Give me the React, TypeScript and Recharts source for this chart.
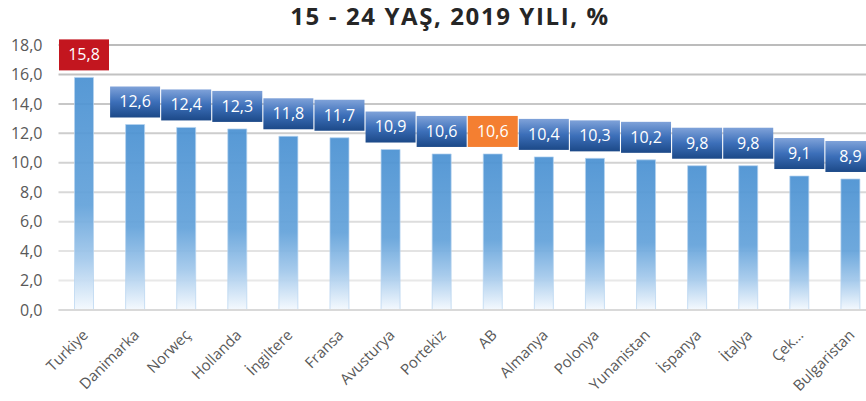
import React from "react";
import { BarChart, Bar, XAxis, YAxis, CartesianGrid, LabelList } from "recharts";

const ulkeler = [
  "Turkiye", "Danimarka", "Norweç", "Hollanda", "İngiltere", "Fransa", "Avusturya", "Portekiz",
  "AB", "Almanya", "Polonya", "Yunanistan", "İspanya", "İtalya", "Çek…", "Bulgaristan",
];
const oranlar = [15.8, 12.6, 12.4, 12.3, 11.8, 11.7, 10.9, 10.6, 10.6, 10.4, 10.3, 10.2, 9.8, 9.8, 9.1, 8.9];
const yTicks = [0, 2, 4, 6, 8, 10, 12, 14, 16, 18];

const data = ulkeler.map((ulke, i) => ({ ulke, oran: oranlar[i] }));

const FONT = "'Open Sans', 'Liberation Sans', sans-serif";
const ozelRenk: Record<string, string> = { Turkiye: "#c3161f", AB: "#f47f31" };

const fmt = (v: number) => v.toFixed(1).replace(".", ",");

const EtiketKutusu = (props: any) => {
  const { x, y, width, value, index } = props;
  const cx = x + width / 2;
  const w = 50;
  const h = 31;
  const alt = y - 7;
  const renk = ozelRenk[ulkeler[index]];
  return (
    <g>
      <rect x={cx - w / 2} y={alt - h} width={w} height={h} fill={renk || "url(#kutuGrad)"} />
      <text
        x={cx}
        y={alt - h / 2 + 1}
        textAnchor="middle"
        dominantBaseline="middle"
        fill="#fff"
        fontSize={16}
        fontFamily={FONT}
      >
        {fmt(value)}
      </text>
    </g>
  );
};

const XEtiket = (props: any) => {
  const { x, y, payload } = props;
  const ax = x + 5;
  const ay = y + 18;
  return (
    <text
      x={ax}
      y={ay}
      textAnchor="end"
      transform={`rotate(-45 ${ax} ${ay})`}
      fill="#595959"
      fontSize={15}
      fontFamily={FONT}
    >
      {payload.value}
    </text>
  );
};

// grid lines fade from darker at the top to lighter near the axis
const gridCizgi = (props: any) => {
  const { x1, y1, x2, y2, offset } = props;
  const top = offset?.top ?? 45;
  const h = offset?.height ?? 265;
  const t = Math.max(0, Math.min(1, (y1 - top) / h));
  const g = Math.round(0xbc + (0xee - 0xbc) * t);
  const c = `rgb(${g},${g},${g})`;
  return <line key={`g-${y1}`} x1={x1} y1={y1} x2={x2} y2={y2} stroke={c} strokeWidth={2} />;
};

export default function App() {
  return (
    <div style={{ position: "absolute", left: 0, top: 0, width: 866, height: 401, overflow: "hidden", background: "#fff" }}>
      <span
        style={{
          position: "absolute",
          left: 450,
          top: 0,
          transform: "translateX(-50%)",
          whiteSpace: "nowrap",
          fontFamily: FONT,
          fontWeight: 700,
          fontSize: 24,
          letterSpacing: 1.6,
          color: "#262626",
          lineHeight: "32px",
        }}
      >
        15 - 24 YAŞ, 2019 YILI, %
      </span>
      <BarChart
        width={876}
        height={401}
        data={data}
        margin={{ top: 45, right: 0, bottom: 0, left: 8.5 }}
        style={{ position: "absolute", left: 0, top: 0 }}
      >
        <defs>
          <linearGradient id="barGrad" x1="0" y1="0" x2="0" y2="1">
            <stop offset="0%" stopColor="#4a91d2" />
            <stop offset="55%" stopColor="#63a2da" />
            <stop offset="78%" stopColor="#a2c8eb" />
            <stop offset="100%" stopColor="#f4f9fe" />
          </linearGradient>
          <linearGradient id="kutuGrad" x1="0" y1="0" x2="0" y2="1">
            <stop offset="0%" stopColor="#7fa2d9" />
            <stop offset="50%" stopColor="#3c6fb9" />
            <stop offset="100%" stopColor="#1c4988" />
          </linearGradient>
        </defs>
        <CartesianGrid vertical={false} horizontal={gridCizgi} />
        <XAxis
          dataKey="ulke"
          interval={0}
          height={91}
          tick={<XEtiket />}
          tickLine={false}
          axisLine={{ stroke: "#d9d9d9", strokeWidth: 2 }}
        />
        <YAxis
          width={50}
          domain={[0, 18]}
          ticks={yTicks}
          tickFormatter={fmt}
          tickLine={false}
          tickSize={0}
          tickMargin={16}
          axisLine={false}
          tick={{ fill: "#595959", fontSize: 16, fontFamily: FONT }}
        />
        <Bar
          dataKey="oran"
          barSize={19}
          fill="url(#barGrad)"
          fillOpacity={0.93}
          stroke="#b5d3f0"
          strokeOpacity={0.7}
          strokeWidth={1}
          isAnimationActive={false}
        >
          <LabelList dataKey="oran" content={<EtiketKutusu />} />
        </Bar>
      </BarChart>
    </div>
  );
}
